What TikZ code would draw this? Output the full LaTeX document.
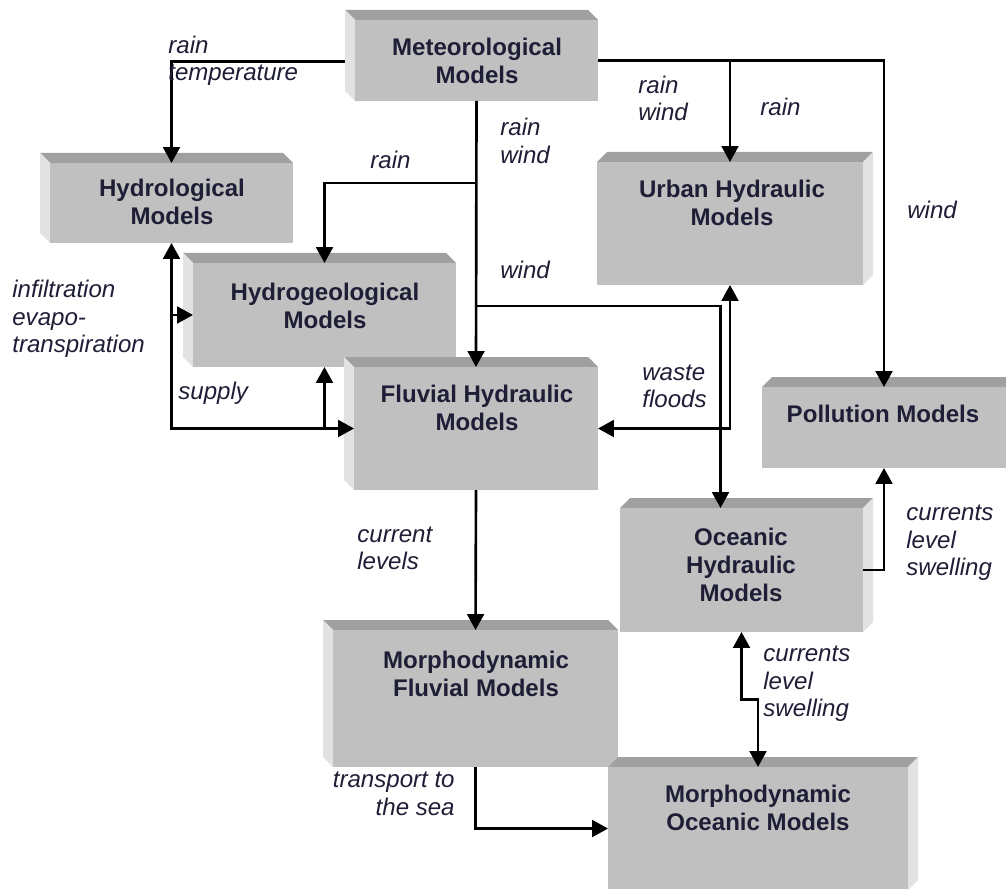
\documentclass[tikz,border=0pt]{standalone}
\usepackage{fontspec}
\setmainfont{Liberation Sans}
\usetikzlibrary{arrows.meta,fit,calc}
\definecolor{frontgray}{HTML}{C0C0C0}
\definecolor{topgray}{HTML}{A0A0A0}
\definecolor{sidegray}{HTML}{E2E2E2}
\definecolor{inkblue}{HTML}{1E1E36}
\begin{document}
\begin{tikzpicture}[x=0.02cm,y=-0.02cm,
  frontface/.style={fill=frontgray,inner sep=0pt,outer sep=0pt},
  topface/.style={fill=topgray},
  sideface/.style={fill=sidegray},
  boxtext/.style={font=\bfseries\fontsize{13.7}{15.9}\selectfont,align=center,text=inkblue,inner sep=0pt},
  lbl/.style={font=\itshape\fontsize{13.7}{15.6}\selectfont,align=left,text=inkblue,inner sep=0pt,anchor=west},
  flow/.style={line width=1.5pt,-{Triangle[length=9pt,width=9.5pt]}},
  twoway/.style={line width=1.5pt,{Triangle[length=9pt,width=9.5pt]}-{Triangle[length=9pt,width=9.5pt]}}]
\useasboundingbox (0,0) rectangle (1006,888);
\clip (0,0) rectangle (1006,888);
% boxes: name/left/top/right/bottom/depth/side face x
\foreach \name/\xa/\ya/\xb/\yb/\d/\xs in {met/355/20/598/101/-10/355,
    hydrol/50/163/293/243/-10/50,
    hydrogeo/193/263/456/367/-10/193,
    urban/597/162/863/285/10/863,
    fluvial/354/367/598/490/-10/354,
    pollution/762/387/1006/468/10/1006,
    oceanic/620/508/863/632/10/863,
    mf/333/630/618/767/-10/333,
    mo/608/767/908/890/10/908}
{
  \fill[topface] (\xa,\ya) -- (\xb,\ya) -- ++(\d,-10) -- ++(\xa-\xb,0) -- cycle;
  \fill[sideface] (\xs,\ya) -- ++(\d,-10) -- ++(0,\yb-\ya) -- (\xs,\yb) -- cycle;
  \node[frontface,fit={(\xa,\ya) (\xb,\yb)}] (\name) {};
}
\node[boxtext] (met-t) at (477,61) {Meteorological\\Models};
\node[boxtext] (hydrol-t) at (172,202) {Hydrological\\Models};
\node[boxtext] (hydrogeo-t) at (325,306) {Hydrogeological\\Models};
\node[boxtext] (urban-t) at (732,202.5) {Urban Hydraulic\\Models};
\node[boxtext] (fluvial-t) at (477,407.5) {Fluvial Hydraulic\\Models};
\node[boxtext] (pollution-t) at (883,414) {Pollution Models};
\node[boxtext] (oceanic-t) at (741,564.5) {Oceanic\\Hydraulic\\Models};
\node[boxtext] (mf-t) at (476,674) {Morphodynamic\\Fluvial Models};
\node[boxtext] (mo-t) at (758,807.5) {Morphodynamic\\Oceanic Models};

% connectors
\coordinate (rain split) at ($(met.south)+(0,82)$);
\coordinate (wind split) at ($(met.south)+(0,205)$);
\draw[flow] ($(met.west)+(-10,1)$) -| (hydrol.north);
\draw[flow] (met.south) -- (fluvial.north);
\draw[flow] (rain split) -| (hydrogeo.north);
\draw[flow] (wind split) -| ($(oceanic.north)+(-21,0)$);
\draw[flow] (met.east) -| (pollution.north);
\draw[flow] (urban.north |- met.east) -- (urban.north);
\draw[twoway] (hydrol.south) |- (fluvial.west);
\draw[flow] (hydrol.south |- hydrogeo.west) -- (hydrogeo.west);
\draw[flow] (hydrogeo.south |- fluvial.west) -- (hydrogeo.south);
\draw[twoway] (urban.south) |- (fluvial.east);
\draw[flow] (fluvial.south) -- (mf.north);
\draw[flow] (oceanic.east) -| (pollution.south);
\draw[twoway] (oceanic.south) |- ($(oceanic.south)!.5!(mo.north)$) -| (mo.north);
\draw[flow] (mf.south) |- (mo.west);

% labels
\node[lbl] (l-raintemp) at (168,60.5) {rain\\temperature};
\node[lbl] (l-rainwind-c) at (500,141) {rain\\wind};
\node[lbl] (l-rain-geo) at (370,160) {rain};
\node[lbl] (l-wind-c) at (500,270) {wind};
\node[lbl] (l-rainwind-r) at (638,98.5) {rain\\wind};
\node[lbl] (l-rain-urban) at (760,107) {rain};
\node[lbl] (l-wind-pol) at (907,210) {wind};
\node[lbl] (l-infil) at (12,319) {infiltration\\evapo-\\transpiration};
\node[lbl] (l-supply) at (178,393) {supply};
\node[lbl] (l-waste) at (642,386.5) {waste\\floods};
\node[lbl] (l-current) at (357,548.5) {current\\levels};
\node[lbl] (l-swell-pol) at (906,543) {currents\\level\\swelling};
\node[lbl] (l-swell-mo) at (763,684) {currents\\level\\swelling};
\node[lbl,anchor=east,align=right] (l-transport) at (455,794) {transport to\\the sea};
\end{tikzpicture}
\end{document}
